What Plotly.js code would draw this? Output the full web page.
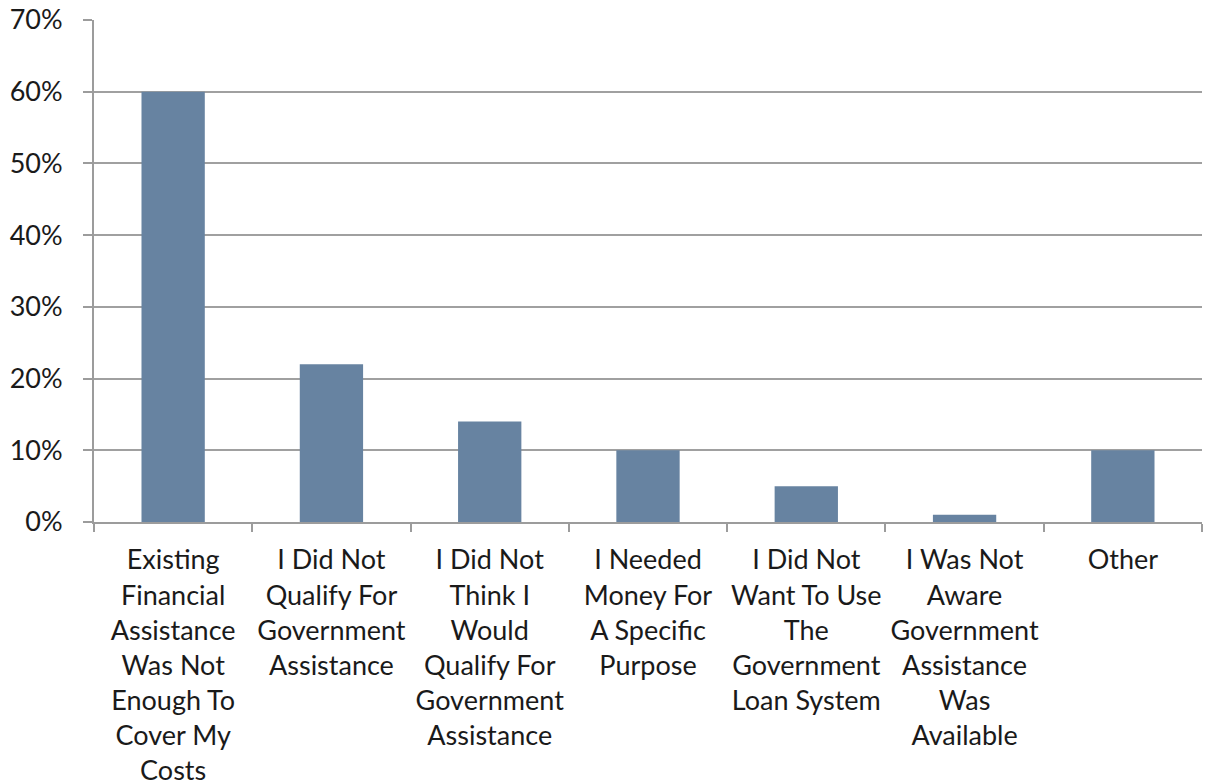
<!DOCTYPE html>
<html><head><meta charset="utf-8">
<script src="https://cdn.plot.ly/plotly-3.0.1.min.js"></script>
<style>body{margin:0;background:#fff}#chart{width:1209px;height:780px}</style>
</head><body><div id="chart"></div>
<script>
const categories = [
  "Existing<br>Financial<br>Assistance<br>Was Not<br>Enough To<br>Cover My<br>Costs",
  "I Did Not<br>Qualify For<br>Government<br>Assistance",
  "I Did Not<br>Think I<br>Would<br>Qualify For<br>Government<br>Assistance",
  "I Needed<br>Money For<br>A Specific<br>Purpose",
  "I Did Not<br>Want To Use<br>The<br>Government<br>Loan System",
  "I Was Not<br>Aware<br>Government<br>Assistance<br>Was<br>Available",
  "Other"
];
const values = [0.60, 0.22, 0.14, 0.10, 0.05, 0.01, 0.10];
const yTicks = [0, 0.1, 0.2, 0.3, 0.4, 0.5, 0.6, 0.7];
const yTickLabels = ["0%", "10%", "20%", "30%", "40%", "50%", "60%", "70%"];

const font = {family: "Lato, 'Open Sans', sans-serif", size: 27, color: "#1a1a1a"};
Plotly.newPlot("chart", [{
  type: "bar", x: categories, y: values,
  marker: {color: "#6783a1"}, width: 0.4, hoverinfo: "none"
}], {
  width: 1209, height: 780,
  margin: {l: 94, r: 7, t: 20, b: 258},
  paper_bgcolor: "#fff", plot_bgcolor: "#fff",
  font: font, showlegend: false, bargap: 0.6,
  xaxis: {
    type: "category", tickson: "boundaries", ticks: "outside", ticklen: 8,
    tickcolor: "#9c9c9c", tickwidth: 2, showline: true, linecolor: "#9c9c9c", linewidth: 2,
    showgrid: false, tickangle: 0, tickfont: font, ticklabelstandoff: 13, automargin: false
  },
  yaxis: {
    range: [0, 0.7], tickvals: yTicks, ticktext: yTickLabels,
    ticks: "outside", ticklen: 9, tickcolor: "#9c9c9c", tickwidth: 2,
    showline: true, linecolor: "#9c9c9c", linewidth: 2,
    showgrid: true, gridcolor: "#a0a0a0", gridwidth: 2, zeroline: false,
    tickfont: font, ticklabelstandoff: 15, automargin: false
  }
}, {staticPlot: true});
</script></body></html>
